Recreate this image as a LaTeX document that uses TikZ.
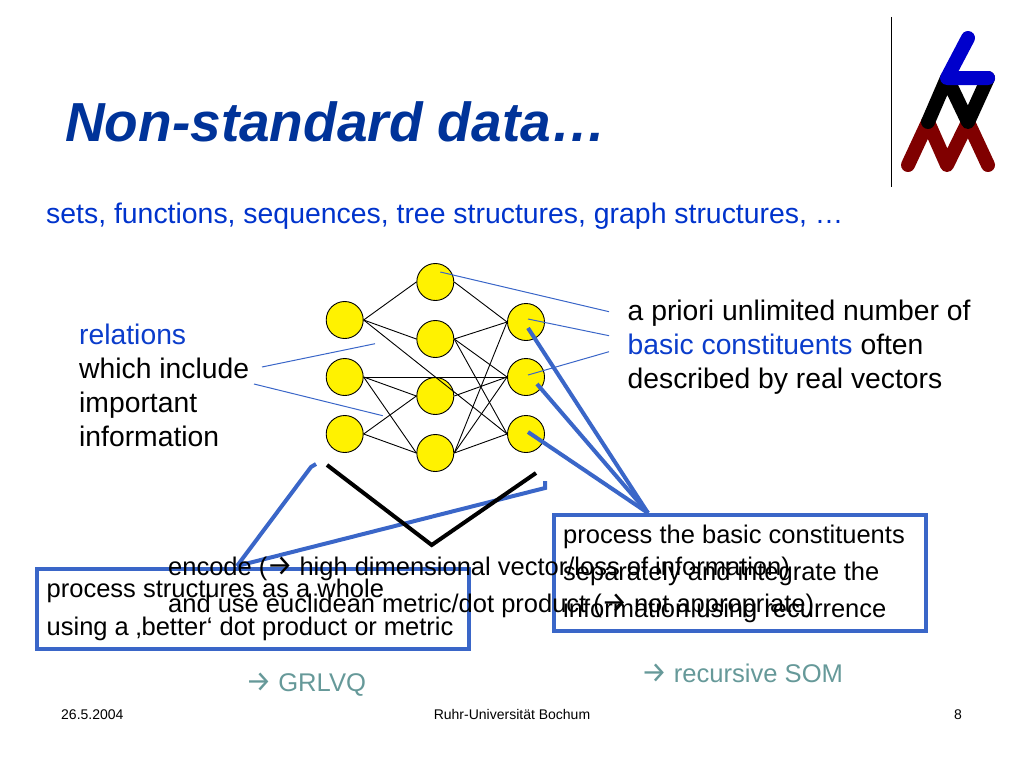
\documentclass[tikz,border=0pt]{standalone}
\usepackage{fontspec}
\setmainfont{Liberation Sans}
\newfontfamily\arrowfont{Fira Sans}
\newcommand{\thinarrow}{\makebox[25pt]{\arrowfont\fontsize{29}{30}\selectfont →}}
\usetikzlibrary{positioning}
\definecolor{titleblue}{RGB}{0,51,153}
\definecolor{textblue}{RGB}{0,51,204}
\definecolor{boxblue}{RGB}{58,102,200}
\definecolor{noteteal}{RGB}{102,153,153}
\definecolor{logored}{RGB}{128,0,0}
\tikzset{
    % Text styles
    plain text/.style={
        inner sep=0pt,
        anchor=base west,
        align=left,
        font=\fontsize{28.3}{34}\selectfont
    },
    box text/.style={
        inner sep=0pt,
        anchor=base west,
        align=left,
        font=\fontsize{25.5}{37.5}\selectfont
    },
    foot text/.style={
        inner sep=0pt,
        anchor=base,
        font=\fontsize{14}{16}\selectfont
    },
    note text/.style={
        inner sep=0pt,
        anchor=base west,
        noteteal,
        font=\fontsize{25.6}{30}\selectfont
    },
    % Box and neuron styles
    topic box/.style={
        draw=boxblue,
        line width=4pt
    },
    neuron/.style={
        circle,
        draw=black,
        fill=yellow,
        line width=0.9pt,
        inner sep=0pt,
        minimum size=37pt
    },
    % Line styles
    weight line/.style={black, line width=0.9pt},
    thin link/.style={boxblue, line width=1pt},
    thick link/.style={boxblue, line width=4pt},
    logo line/.style={line width=14pt, line cap=round, line join=round}
}
\begin{document}
\begin{tikzpicture}[x=1pt, y=-1pt]
        \useasboundingbox (0,0) rectangle (1024,768);

        % Title and logo
        \node[inner sep=0pt, anchor=base west, titleblue, font=\fontsize{55}{60}\selectfont\bfseries\itshape] (title) at (65,141) {Non-standard data…};
        \node[inner sep=0pt, anchor=base west, textblue, font=\fontsize{28.4}{34}\selectfont] (subtitle) at (46,223) {sets, functions, sequences, tree structures, graph structures, …};
        \draw[black, line width=1pt] (891.7,17) -- (891.7,187);
        \draw[logo line, logored] (908,165) -- (928,122) -- (947,165) -- (968,122) -- (988,165);
        \draw[logo line, black] (928,122) -- (947,78) -- (968,122) -- (988,78);
        \draw[logo line, blue!80!black] (968,38) -- (947,78) -- (988,78);

        % Boxes
        \node[topic box, minimum width=432pt, minimum height=80pt] (leftbox) at (252.7,608.7) {};
        \node[topic box, minimum width=372pt, minimum height=116pt] (rightbox) at (740,572.7) {};

        % Neurons
        \foreach \i/\y in {1/320,2/377,3/434} {
            \node[neuron] (l\i) at (344.7,\y) {};
        }
        \foreach \i/\y in {1/282,2/339,3/396,4/453} {
            \node[neuron] (m\i) at (435.3,\y) {};
        }
        \foreach \i/\y in {1/322,2/377,3/434} {
            \node[neuron] (r\i) at (526,\y) {};
        }

        % Weights
        \foreach \a/\b in {l1/m1,l1/m2,l1/r3,l2/m3,l2/m4,l2/r2,l3/m3,l3/m4,m1/r1,m2/r1,m2/r2,m2/r3,m3/r2,m4/r1,m4/r2,m4/r3} {
            \draw[weight line] (\a.east) -- (\b.west);
        }

        % Thin links
        \coordinate (t1) at (609,311.7);
        \coordinate (t2) at (609,335.7);
        \coordinate (t3) at (609,351.7);
        \coordinate (t4) at (262,367);
        \coordinate (t5) at (375,343.7);
        \coordinate (t6) at (254,384);
        \coordinate (t7) at (382.7,415.7);
        \draw[thin link] ([shift={(5,-10)}]m1.center) -- (t1);
        \draw[thin link] ([shift={(2,-3)}]r1.center) -- (t2);
        \draw[thin link] ([shift={(2,-2)}]r2.center) -- (t3);
        \draw[thin link] (t4) -- (t5);
        \draw[thin link] (t6) -- (t7);

        % Thick links
        \coordinate (v1) at (648,513);
        \coordinate (v2) at (237,566);
        \coordinate (hook1) at (311,467);
        \coordinate (hook2) at (316,464);
        \coordinate (hook3) at (545,481);
        \coordinate (hook4) at (545,488);
        \draw[thick link] ([shift={(2,6)}]r1.center) -- (v1);
        \draw[thick link] ([shift={(11,7)}]r2.center) -- (v1);
        \draw[thick link] ([shift={(2,-2)}]r3.center) -- (v1);
        \draw[thick link] (hook2) -- (hook1) -- (v2);
        \draw[thick link] (hook3) -- (hook4) -- (v2);

        % Black angle
        \coordinate (c1) at (327,465);
        \coordinate (c2) at (431.7,545);
        \coordinate (c3) at (536,473);
        \draw[black, line width=4pt] (c1) -- (c2) -- (c3);

        % Texts
        \node[plain text] (relations) at (79,446) {\textcolor{textblue!80!boxblue}{relations}\\which include\\important\\information};
        \node[plain text] (basic) at (627.5,388.5) {a priori unlimited number of\\\textcolor{textblue!80!boxblue}{basic constituents} often\\described by real vectors};
        \node[box text] (encode) at (168,612.7) {encode (\thinarrow{} high dimensional vector/loss of information)\\and use euclidean metric/dot product (\thinarrow{} not appropriate)};
        \node[box text] (whole) at (46.5,635) {process structures as a whole\\using a ‚better‘ dot product or metric};
        \node[box text, font=\fontsize{25.5}{37}\selectfont] (separate) at (563,617.2) {process the basic constituents\\separately and integrate the\\information using recurrence};
        \node[note text] (grlvq) at (246,691) {\thinarrow{} GRLVQ};
        \node[note text] (som) at (641.5,682.7) {\thinarrow{} recursive SOM};

        % Footer
        \node[foot text, anchor=base west] (date) at (61,719) {26.5.2004};
        \node[foot text] (ruhr) at (512,719) {Ruhr-Universität Bochum};
        \node[foot text] (page) at (958,719) {8};
    \end{tikzpicture}
\end{document}
